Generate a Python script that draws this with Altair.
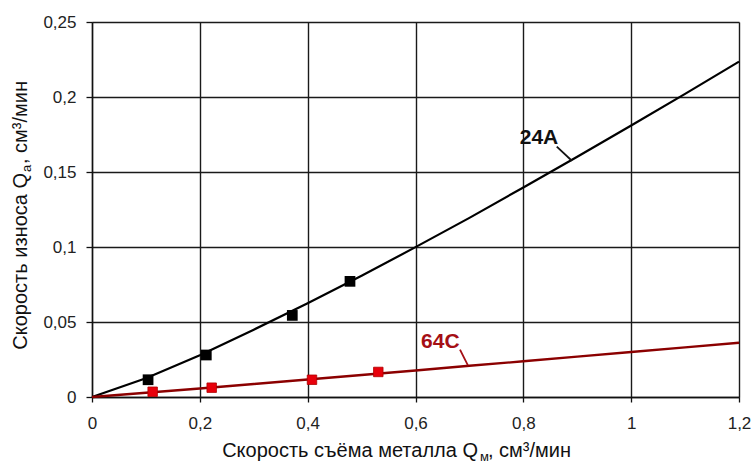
import altair as alt
import pandas as pd

# Axis ticks
x_ticks = [0, 0.2, 0.4, 0.6, 0.8, 1.0, 1.2]
y_ticks = [0, 0.05, 0.1, 0.15, 0.2, 0.25]

# Trend lines
trend_x = [0, 0.1, 0.2, 0.3, 0.4, 0.5, 0.6, 0.7, 0.8, 0.9, 1.0, 1.1, 1.2]
trend_24a = [0, 0.0125, 0.0279, 0.0449, 0.0625, 0.0808, 0.0999, 0.1194,
             0.1397, 0.1602, 0.181, 0.2021, 0.2236]
trend_64c = [0, 0.0028, 0.0057, 0.0087, 0.0117, 0.0147, 0.0177, 0.0208,
             0.0238, 0.0269, 0.030, 0.0331, 0.0362]

# Measured points
pts_24a_x = [0.104, 0.212, 0.3715, 0.4785]
pts_24a_y = [0.0115, 0.028, 0.0544, 0.0771]
pts_64c_x = [0.1125, 0.222, 0.408, 0.531]
pts_64c_y = [0.0035, 0.0062, 0.0115, 0.0167]

# Curve labels and their leader lines
curve_labels = ["24A", "64C"]
label_x = [0.829, 0.646]
label_y = [0.1725, 0.0369]
leader_x1 = [0.862, 0.6825]
leader_y1 = [0.1669, 0.0316]
leader_x2 = [0.890, 0.697]
leader_y2 = [0.1575, 0.0212]
label_colors = ["#111111", "#A50F15"]

# Axis titles with subscripts
x_title_parts = ["Скорость съёма металла Q", "м", ", см³/мин"]
y_title_parts = ["Скорость износа Q", "а", ", см³/мин"]

FONT = "Liberation Sans"
W, H = 647, 375

xs = alt.Scale(domain=[0, 1.2], nice=False, zero=True)
ys = alt.Scale(domain=[0, 0.25], nice=False, zero=True)
comma = "replace(format(datum.value, '~g'), '.', ',')"

x_axis = alt.Axis(values=x_ticks, labelExpr=comma, title=None, grid=True,
                  gridColor="#1a1a1a", gridWidth=1.4, gridOpacity=1,
                  domainColor="#111111", domainWidth=1.4,
                  tickColor="#111111", tickSize=5, tickWidth=1.3,
                  labelPadding=13, labelFont=FONT, labelFontSize=17,
                  labelColor="#222222", labelFlush=False)
y_axis = alt.Axis(values=y_ticks, labelExpr=comma, title=None, grid=True,
                  gridColor="#1a1a1a", gridWidth=1.4, gridOpacity=1,
                  domainColor="#111111", domainWidth=1.4,
                  tickColor="#111111", tickSize=6, tickWidth=1.3,
                  labelPadding=10, labelFont=FONT, labelFontSize=17,
                  labelColor="#222222", labelFlush=False)


def X(field):
    return alt.X(field, scale=xs, axis=x_axis)


def Y(field):
    return alt.Y(field, scale=ys, axis=y_axis)


lines_df = pd.DataFrame({"x": trend_x, "a": trend_24a, "c": trend_64c})

line_24a = alt.Chart(lines_df).mark_line(color="#000000", strokeWidth=2.2).encode(
    x=X("x:Q"), y=Y("a:Q"))
line_64c = alt.Chart(lines_df).mark_line(color="#8B0000", strokeWidth=2.4).encode(
    x=X("x:Q"), y=Y("c:Q"))

pts_a = alt.Chart(pd.DataFrame({"x": pts_24a_x, "y": pts_24a_y})).mark_square(
    size=115, color="#000000", opacity=1).encode(x=X("x:Q"), y=Y("y:Q"))
pts_c = alt.Chart(pd.DataFrame({"x": pts_64c_x, "y": pts_64c_y})).mark_square(
    size=90, color="#E8000B", opacity=1, stroke="#B00000", strokeWidth=0.8).encode(
    x=X("x:Q"), y=Y("y:Q"))

lab_df = pd.DataFrame({"t": curve_labels, "x": label_x, "y": label_y,
                       "x1": leader_x1, "y1": leader_y1,
                       "x2": leader_x2, "y2": leader_y2, "c": label_colors})
leaders = alt.Chart(lab_df).mark_rule(strokeWidth=1.8).encode(
    x=X("x1:Q"), y=Y("y1:Q"), x2="x2:Q", y2="y2:Q",
    color=alt.Color("c:N", scale=None))
labels = alt.Chart(lab_df).mark_text(font=FONT, fontSize=21, fontWeight="bold",
                                     align="center", baseline="middle").encode(
    x=X("x:Q"), y=Y("y:Q"), text="t:N", color=alt.Color("c:N", scale=None))

one = pd.DataFrame({"k": [0]})


def piece(text, x, y, size, align, angle=0):
    kw = dict(text=text, font=FONT, fontSize=size, align=align,
              baseline="alphabetic", color="#111111")
    if angle:
        kw["angle"] = angle
    return alt.Chart(one).mark_text(**kw).encode(x=alt.value(x), y=alt.value(y))


x_title = (piece(x_title_parts[0], 386, 435, 20, "right")
           + piece(x_title_parts[1], 388, 439, 13, "left")
           + piece(x_title_parts[2], 396, 435, 20, "left"))
y_title = (piece(y_title_parts[0], -65, 151, 20, "right", 270)
           + piece(y_title_parts[1], -61, 150, 13, "left", 270)
           + piece(y_title_parts[2], -65, 142, 20, "left", 270))

chart = alt.layer(
    line_24a, line_64c, pts_a, pts_c, leaders, labels, x_title, y_title
).properties(
    width=W, height=H,
    autosize=alt.AutoSizeParams(type="none"),
    padding={"left": 92, "top": 22, "right": 14, "bottom": 66},
    background="white",
).configure_view(strokeWidth=0)

chart.save("out.html", embed_options={"renderer": "svg", "actions": False})
